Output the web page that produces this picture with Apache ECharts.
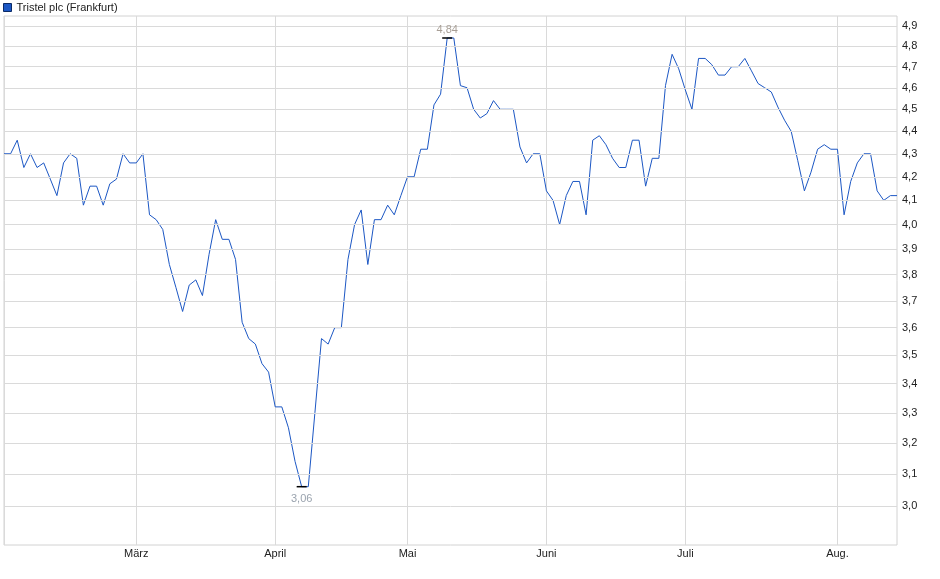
<!DOCTYPE html>
<html>
<head>
<meta charset="utf-8">
<script src="https://cdn.jsdelivr.net/npm/echarts@6.0.0/dist/echarts.min.js"></script>
<style>
  html, body { margin: 0; padding: 0; background: #fff; }
  #chart { width: 940px; height: 579px; }
</style>
</head>
<body>
<div id="chart"></div>
<script>
// Schlusskurse, ein Wert pro Handelstag
var prices = [
  4.30, 4.30, 4.36, 4.24, 4.30, 4.24, 4.26, 4.19, 4.12, 4.26,
  4.30, 4.28, 4.08, 4.16, 4.16, 4.08, 4.17, 4.19, 4.30, 4.26,
  4.26, 4.30, 4.04, 4.02, 3.98, 3.84, 3.75, 3.66, 3.76, 3.78,
  3.72, 3.88, 4.02, 3.94, 3.94, 3.86, 3.62, 3.56, 3.54, 3.47,
  3.44, 3.32, 3.32, 3.25, 3.14, 3.06, 3.06, 3.30, 3.56, 3.54,
  3.60, 3.60, 3.86, 4.00, 4.06, 3.84, 4.02, 4.02, 4.08, 4.04,
  4.12, 4.20, 4.20, 4.32, 4.32, 4.52, 4.57, 4.84, 4.84, 4.61,
  4.60, 4.50, 4.46, 4.48, 4.54, 4.50, 4.50, 4.50, 4.33, 4.26,
  4.30, 4.30, 4.14, 4.10, 4.00, 4.12, 4.18, 4.18, 4.04, 4.36,
  4.38, 4.34, 4.28, 4.24, 4.24, 4.36, 4.36, 4.16, 4.28, 4.28,
  4.61, 4.76, 4.69, 4.59, 4.50, 4.74, 4.74, 4.71, 4.66, 4.66,
  4.70, 4.70, 4.74, 4.68, 4.62, 4.60, 4.58, 4.51, 4.45, 4.40,
  4.27, 4.14, 4.22, 4.32, 4.34, 4.32, 4.32, 4.04, 4.18, 4.26,
  4.30, 4.30, 4.14, 4.10, 4.12, 4.12
];
var days = prices.map(function (p, i) { return i; });

// erster Handelstag im Monat
var monthStarts = [20, 41, 61, 82, 103, 126];
var monthLabels = ['März', 'April', 'Mai', 'Juni', 'Juli', 'Aug.'];

// Kurs-Skala (logarithmisch)
var yTicks = [3.0, 3.1, 3.2, 3.3, 3.4, 3.5, 3.6, 3.7, 3.8, 3.9,
              4.0, 4.1, 4.2, 4.3, 4.4, 4.5, 4.6, 4.7, 4.8, 4.9];

var seriesName = 'Tristel plc (Frankfurt)';
var gridColor = '#dadada';
var font = 'Liberation Sans, Arial, sans-serif';

function comma(v, d) {
  return v.toFixed(d).replace('.', ',');
}

var chart = echarts.init(document.getElementById('chart'));
chart.setOption({
  animation: false,
  backgroundColor: '#fff',
  textStyle: { fontFamily: font },
  legend: {
    data: [seriesName],
    left: 3,
    top: 2,
    padding: 0,
    icon: 'rect',
    itemWidth: 8,
    itemHeight: 8,
    itemStyle: { borderColor: '#0b2a66', borderWidth: 1 },
    textStyle: { fontSize: 11, color: '#222', fontFamily: font }
  },
  grid: {
    left: 4,
    right: 43,
    top: 16,
    bottom: 34,
    show: true,
    borderColor: '#d2d2d2',
    borderWidth: 1,
    backgroundColor: '#fff'
  },
  xAxis: {
    type: 'category',
    data: days,
    boundaryGap: false,
    axisLine: { show: false },
    axisTick: { show: false },
    axisLabel: {
      interval: function (i) { return monthStarts.indexOf(i) >= 0; },
      formatter: function (v, i) {
        var k = monthStarts.indexOf(i);
        return k >= 0 ? monthLabels[k] : '';
      },
      fontSize: 11,
      color: '#222',
      margin: 3
    },
    splitLine: {
      show: true,
      interval: function (i) { return i === 0 || monthStarts.indexOf(i) >= 0; },
      lineStyle: { color: gridColor, width: 1 }
    }
  },
  yAxis: {
    type: 'log',
    position: 'right',
    min: 2.883,
    max: 4.95,
    axisLine: { show: false },
    axisTick: { show: false },
    axisLabel: { show: false },
    splitLine: { show: false }
  },
  series: [
    {
      // Raster und Achsenbeschriftung
      name: 'grid',
      type: 'line',
      data: [],
      silent: true,
      z: 1,
      markLine: {
        silent: true,
        symbol: 'none',
        animation: false,
        lineStyle: { color: gridColor, width: 1, type: 'solid' },
        label: {
          position: 'end',
          distance: 5,
          fontSize: 11,
          color: '#222',
          fontFamily: font,
          formatter: function (p) { return comma(p.value, 1); }
        },
        emphasis: { disabled: true },
        data: yTicks.map(function (t) { return { yAxis: t }; })
      }
    },
    {
      name: seriesName,
      type: 'line',
      data: prices,
      z: 3,
      showSymbol: false,
      symbol: 'none',
      color: '#1c57c4',
      lineStyle: { color: '#1c57c4', width: 1 },
      markPoint: {
        symbol: 'rect',
        symbolSize: [10, 1.5],
        itemStyle: { color: '#000' },
        label: {
          fontSize: 11,
          fontFamily: font,
          formatter: function (p) { return comma(p.value, 2); }
        },
        data: [
          { type: 'max', label: { position: 'top', distance: 2, color: '#a89f96' } },
          { type: 'min', label: { position: 'bottom', distance: 6, color: '#9aa3ae' } }
        ]
      }
    }
  ]
});
</script>
</body>
</html>
